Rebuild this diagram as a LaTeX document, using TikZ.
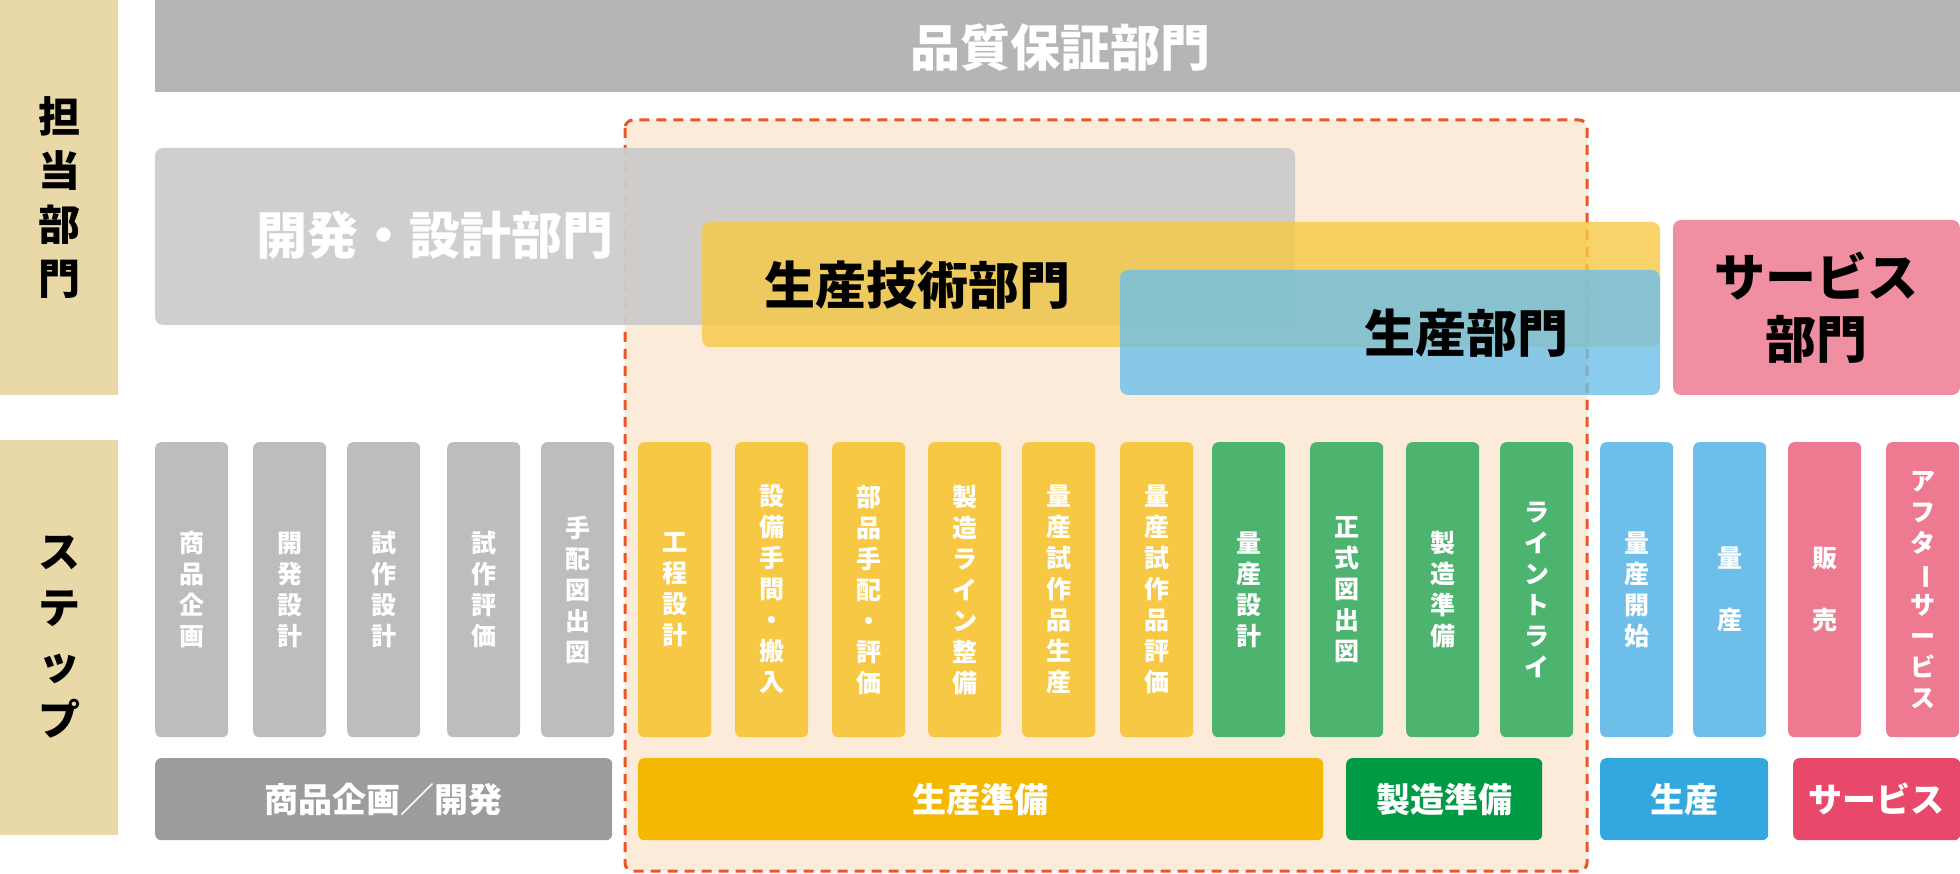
\documentclass[tikz,border=0pt]{standalone}
\usepackage{fontspec}
\setmainfont{Noto Sans CJK JP}
\usetikzlibrary{positioning}
\definecolor{beige}{HTML}{EAD9A8}
\definecolor{qgray}{HTML}{B4B5B4}
\definecolor{dgray}{HTML}{CCCCCC}
\definecolor{sgray}{HTML}{BDBDBD}
\definecolor{bgray}{HTML}{9C9C9C}
\definecolor{syel}{HTML}{F7C843}
\definecolor{byel}{HTML}{F4B800}
\definecolor{sgreen}{HTML}{4CB46F}
\definecolor{bgreen}{HTML}{009944}
\definecolor{sblue}{HTML}{6DBFEA}
\definecolor{bblue}{HTML}{33A8E0}
\definecolor{spink}{HTML}{EE7A92}
\definecolor{bpink}{HTML}{E8486A}
\definecolor{lorange}{HTML}{FDEBDA}
\definecolor{dorange}{HTML}{E8572A}
\tikzset{
 stepcol/.style={rounded corners=6pt,minimum width=73pt,minimum height=295pt,anchor=north west,inner sep=0pt},
 steptxt/.style={text=white,font=\bfseries\fontsize{25}{31}\selectfont,align=center,anchor=center},
 barbox/.style={rounded corners=6pt,minimum height=82pt,anchor=north west,inner sep=0pt,text=white,font=\bfseries\fontsize{34}{40}\selectfont},
 bigtxt/.style={font=\bfseries\fontsize{51}{60}\selectfont}
}
\begin{document}
\begin{tikzpicture}[x=1pt,y=-1pt]
\useasboundingbox (0,0) rectangle (1960,874);
% left labels
\node[fill=beige,minimum width=118pt,minimum height=395pt,anchor=north west,inner sep=0pt] (lab1) at (0,0) {};
\node[align=center,font=\bfseries\fontsize{42}{54}\selectfont] at (59,198) {担\\当\\部\\門};
\node[fill=beige,minimum width=118pt,minimum height=395pt,anchor=north west,inner sep=0pt] (lab2) at (0,440) {};
\node[align=center,font=\bfseries\fontsize{42}{56}\selectfont] at (59,637) {ス\\テ\\ッ\\プ};
% top bar
\node[fill=qgray,minimum width=1805pt,minimum height=92pt,anchor=north west,inner sep=0pt] (qa) at (155,0) {};
\node[text=white,font=\bfseries\fontsize{50}{58}\selectfont] at (1060,48) {品質保証部門};
% dashed region
\draw[fill=lorange,draw=dorange,line width=3pt,dash pattern=on 10pt off 7pt,rounded corners=8pt] (625,120) rectangle (1587,871);
% departments
\fill[dgray,opacity=0.95,rounded corners=8pt] (155,148) rectangle (1295,325);
\node[text=white,bigtxt] (dev) at (435,235) {開発・設計部門};
\fill[syel,opacity=0.8,rounded corners=8pt] (702,222) rectangle (1660,347);
\node[bigtxt] (prodeng) at (917,285) {生産技術部門};
\fill[sblue,opacity=0.8,rounded corners=8pt] (1120,270) rectangle (1660,395);
\node[bigtxt] (prod) at (1466,333) {生産部門};
\fill[spink!85!white,rounded corners=8pt] (1673,220) rectangle (1960,395);
\node[align=center,font=\bfseries\fontsize{51}{62}\selectfont] (svc) at (1816,308) {サービス\\部門};
% steps
\foreach \x/\c/\t [count=\i] in {
 155/sgray/{商\\品\\企\\画},
 253/sgray/{開\\発\\設\\計},
 347/sgray/{試\\作\\設\\計},
 447/sgray/{試\\作\\評\\価},
 541/sgray/{手\\配\\図\\出\\図},
 638/syel/{工\\程\\設\\計},
 735/syel/{設\\備\\手\\間\\・\\搬\\入},
 832/syel/{部\\品\\手\\配\\・\\評\\価},
 928/syel/{製\\造\\ラ\\イ\\ン\\整\\備},
 1022/syel/{量\\産\\試\\作\\品\\生\\産},
 1120/syel/{量\\産\\試\\作\\品\\評\\価},
 1212/sgreen/{量\\産\\設\\計},
 1310/sgreen/{正\\式\\図\\出\\図},
 1406/sgreen/{製\\造\\準\\備},
 1500/sgreen/{ラ\\イ\\ン\\ト\\ラ\\イ},
 1600/sblue/{量\\産\\開\\始},
 1693/sblue/{量\\\\産},
 1788/spink/{販\\\\売},
 1886/spink/{ア\\フ\\タ\\\rotatebox[origin=c]{-90}{ー}\\サ\\ー\\ビ\\ス}}
 {
 \node[stepcol,fill=\c] (s\i) at (\x,442) {};
 \node[steptxt] at (s\i.center) {\t};
 }
% bottom bars
\node[barbox,fill=bgray,minimum width=457pt] (b1) at (155,758) {商品企画／開発};
\node[barbox,fill=byel,minimum width=685pt] (b2) at (638,758) {生産準備};
\node[barbox,fill=bgreen,minimum width=196pt] (b3) at (1346,758) {製造準備};
\node[barbox,fill=bblue,minimum width=168pt] (b4) at (1600,758) {生産};
\node[barbox,fill=bpink,minimum width=167pt] (b5) at (1793,758) {サービス};
\end{tikzpicture}
\end{document}
